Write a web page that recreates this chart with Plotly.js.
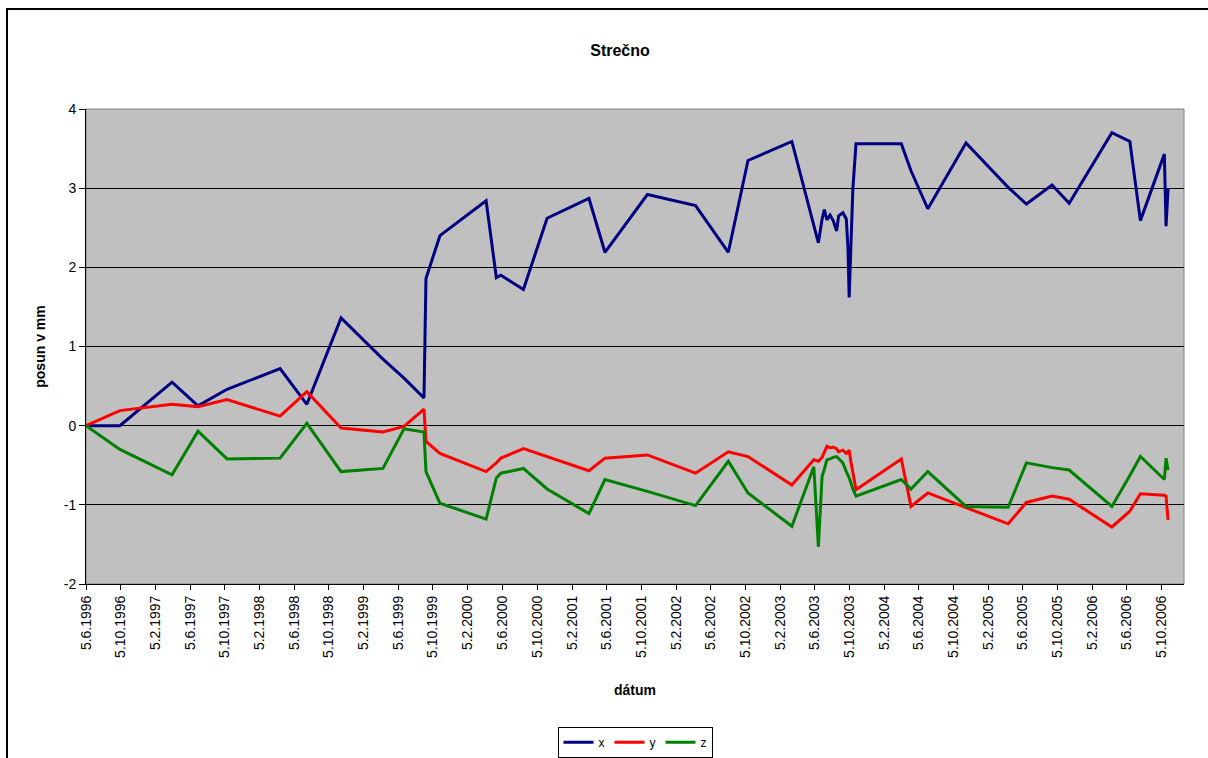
<!DOCTYPE html>
<html>
<head>
<meta charset="utf-8">
<script src="https://cdn.plot.ly/plotly-3.0.1.min.js"></script>
<style>
  html, body { margin: 0; padding: 0; background: #ffffff; overflow: hidden; }
  #chart { position: absolute; left: 0; top: 0; width: 1208px; height: 758px; }
  #frame { position: absolute; left: 6px; top: 8px; width: 1400px; height: 1000px;
           border-top: 2px solid #000; border-left: 2px solid #000; pointer-events: none; }
</style>
</head>
<body>
<div id="chart"></div>
<div id="frame"></div>
<script>
// Measurement dates (Strečno monitoring point)
const measureDates = [
  '1996-06-05','1996-10-02','1997-04-03','1997-07-03','1997-10-13',
  '1998-04-17','1998-07-20','1998-11-17','1999-04-13','1999-06-26',
  '1999-09-04','1999-09-11','1999-10-30','2000-04-09','2000-05-15',
  '2000-05-31','2000-08-18','2000-11-09','2001-04-05','2001-05-31',
  '2001-10-27','2002-04-14','2002-08-07','2002-10-15','2003-03-18',
  '2003-06-03','2003-06-19','2003-07-02','2003-07-10','2003-07-19',
  '2003-07-30','2003-08-10','2003-08-22','2003-08-29','2003-09-13',
  '2003-09-25','2003-10-01','2003-10-05','2003-10-11','2003-10-18',
  '2003-10-29','2004-04-05','2004-05-09','2004-07-07','2004-11-18',
  '2005-04-15','2005-06-18','2005-09-16','2005-11-15','2006-04-14',
  '2006-06-16','2006-07-23','2006-10-15','2006-10-21','2006-10-28'
];

// Displacement components in mm
const posunX = [
  0, 0, 0.55, 0.25, 0.46, 0.72, 0.27, 1.36, 0.84, 0.60,
  0.35, 1.86, 2.40, 2.84, 1.87, 1.90, 1.72, 2.62, 2.87, 2.19,
  2.92, 2.78, 2.19, 3.35, 3.59, 2.54, 2.31, 2.61, 2.73, 2.60,
  2.66, 2.59, 2.46, 2.65, 2.69, 2.61, 2.23, 1.62, 2.23, 2.99,
  3.56, 3.56, 3.22, 2.74, 3.57, 3.01, 2.80, 3.04, 2.81, 3.70,
  3.59, 2.59, 3.43, 2.52, 2.99
];
const posunY = [
  0, 0.19, 0.27, 0.24, 0.33, 0.12, 0.43, -0.03, -0.08, -0.01,
  0.21, -0.20, -0.35, -0.58, -0.47, -0.41, -0.29, -0.39, -0.57, -0.41,
  -0.37, -0.60, -0.33, -0.39, -0.75, -0.43, -0.45, -0.40, -0.33, -0.26,
  -0.28, -0.27, -0.29, -0.33, -0.31, -0.35, -0.33, -0.31, -0.45, -0.60,
  -0.81, -0.42, -1.02, -0.85, -1.04, -1.24, -0.97, -0.89, -0.93, -1.28,
  -1.08, -0.86, -0.88, -0.89, -1.19
];
const posunZ = [
  0, -0.30, -0.62, -0.07, -0.42, -0.41, 0.03, -0.58, -0.54, -0.04,
  -0.08, -0.58, -0.98, -1.18, -0.66, -0.60, -0.54, -0.80, -1.11, -0.68,
  -0.83, -1.01, -0.45, -0.85, -1.27, -0.52, -1.53, -0.64, -0.55, -0.43,
  -0.42, -0.40, -0.39, -0.42, -0.47, -0.58, -0.62, -0.66, -0.72, -0.80,
  -0.89, -0.68, -0.80, -0.58, -1.02, -1.03, -0.47, -0.53, -0.56, -1.02,
  -0.63, -0.39, -0.68, -0.41, -0.56
];

// Date axis ticks, every four months
const tickDates = [
  '1996-06-05','1996-10-05','1997-02-05','1997-06-05','1997-10-05',
  '1998-02-05','1998-06-05','1998-10-05','1999-02-05','1999-06-05',
  '1999-10-05','2000-02-05','2000-06-05','2000-10-05','2001-02-05',
  '2001-06-05','2001-10-05','2002-02-05','2002-06-05','2002-10-05',
  '2003-02-05','2003-06-05','2003-10-05','2004-02-05','2004-06-05',
  '2004-10-05','2005-02-05','2005-06-05','2005-10-05','2006-02-05',
  '2006-06-05','2006-10-05'
];
const yTicks = [-2, -1, 0, 1, 2, 3, 4];
const yTickLabels = ['-2', '-1', '0', '1', '2', '3', '4'];

const FONT = 'Liberation Sans, Arial, sans-serif';

const series = [
  { name: 'x', values: posunX, color: '#000080' },
  { name: 'y', values: posunY, color: '#FF0000' },
  { name: 'z', values: posunZ, color: '#008000' }
];

const traces = series.map(s => ({
  type: 'scatter',
  mode: 'lines',
  name: s.name,
  x: measureDates,
  y: s.values,
  line: { color: s.color, width: 3 },
  hoverinfo: 'x+y+name'
}));

const layout = {
  width: 1208,
  height: 758,
  margin: { l: 86, r: 24, t: 109, b: 174, autoexpand: false },
  paper_bgcolor: '#ffffff',
  plot_bgcolor: '#C0C0C0',
  font: { family: FONT, color: '#000', size: 12 },
  showlegend: true,
  title: {
    text: 'Strečno',
    font: { family: FONT, size: 16, weight: 'bold', color: '#000' },
    xref: 'container', x: 620 / 1208, xanchor: 'center',
    yref: 'container', y: 1 - 50 / 758, yanchor: 'middle'
  },
  xaxis: {
    type: 'date',
    range: ['1996-06-05', '2006-12-23'],
    tickmode: 'array',
    tickvals: tickDates,
    tickformat: '%-d.%-m.%Y',
    tickangle: -90,
    ticks: 'outside',
    ticklen: 5,
    tickcolor: '#000',
    tickfont: { family: FONT, size: 14, color: '#000' },
    showgrid: false,
    zeroline: false,
    showline: true,
    linecolor: '#000',
    linewidth: 1,
    automargin: false,
    title: {
      text: 'dátum',
      font: { family: FONT, size: 14, weight: 'bold', color: '#000' },
      standoff: 28
    }
  },
  yaxis: {
    range: [-2, 4],
    tickmode: 'array',
    tickvals: yTicks,
    ticktext: yTickLabels,
    ticks: 'outside',
    ticklen: 6,
    tickcolor: '#000',
    tickfont: { family: FONT, size: 14, color: '#000' },
    showgrid: true,
    gridcolor: '#000',
    gridwidth: 1,
    zeroline: false,
    showline: true,
    linecolor: '#000',
    linewidth: 1,
    automargin: false,
    title: {
      text: 'posun v mm',
      font: { family: FONT, size: 14, weight: 'bold', color: '#000' },
      standoff: 14
    }
  },
  legend: {
    orientation: 'h',
    x: 0.5, xanchor: 'center',
    y: (584 - 742) / 474, yanchor: 'middle',
    bgcolor: '#ffffff',
    bordercolor: '#000',
    borderwidth: 1,
    itemwidth: 30,
    font: { family: FONT, size: 12, color: '#000' }
  },
  shapes: [{
    type: 'rect', xref: 'paper', yref: 'paper',
    x0: 0, x1: 1, y0: 0, y1: 1,
    line: { color: '#808080', width: 1 },
    layer: 'below'
  }]
};

Plotly.newPlot('chart', traces, layout, { displayModeBar: false, staticPlot: true });
</script>
</body>
</html>
